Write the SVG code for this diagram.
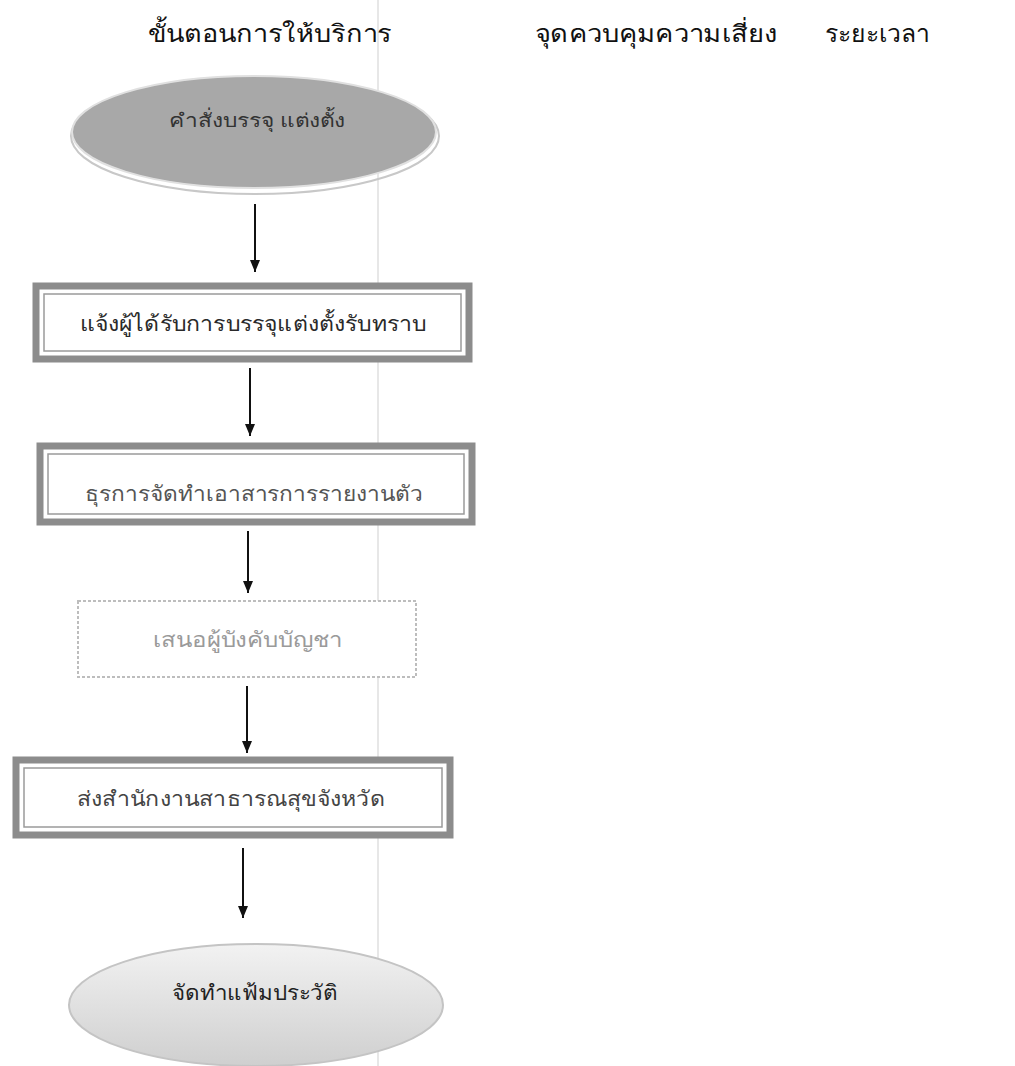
<svg xmlns="http://www.w3.org/2000/svg" width="1015" height="1066" viewBox="0 0 1015 1066">
<defs>
<style>
text{font-family:"Noto Sans","DejaVu Sans",sans-serif;text-anchor:middle}
.hdr{font-size:24px;fill:#111}
.lbl{font-size:21px;fill:#2a2a2a}
.box-outer{fill:#fff;stroke:#8c8c8c;stroke-width:7}
.box-inner{fill:none;stroke:#9a9a9a;stroke-width:1.5}
.conn{stroke:#111;stroke-width:2;fill:none}
</style>
<marker id="ah" viewBox="0 0 12 10" refX="12" refY="5" markerWidth="12" markerHeight="10" markerUnits="userSpaceOnUse" orient="auto">
<path d="M0,0 L12,5 L0,10 Z" fill="#111"/>
</marker>
<linearGradient id="g2" x1="0" y1="0" x2="0" y2="1">
<stop offset="0" stop-color="#f2f2f2"/>
<stop offset="1" stop-color="#cfcfcf"/>
</linearGradient>
</defs>
<rect width="1015" height="1066" fill="#fff"/>
<line x1="378" y1="0" x2="378" y2="1066" stroke="#cfcfcf" stroke-width="1"/>
<g id="headers">
<text class="hdr" x="270" y="42" textLength="244" lengthAdjust="spacingAndGlyphs">ขั้นตอนการให้บริการ</text>
<text class="hdr" x="656" y="42" textLength="243" lengthAdjust="spacingAndGlyphs">จุดควบคุมความเสี่ยง</text>
<text class="hdr" x="877" y="42" textLength="105" lengthAdjust="spacingAndGlyphs">ระยะเวลา</text>
</g>
<g id="n1">
<ellipse cx="255" cy="136" rx="184" ry="58" fill="none" stroke="#c8c8c8" stroke-width="2"/>
<ellipse cx="254" cy="132" rx="182" ry="56" fill="#a8a8a8" stroke="#e0e0e0" stroke-width="2"/>
<text class="lbl" x="257" y="127" style="font-size:19px;fill:#333" textLength="176" lengthAdjust="spacingAndGlyphs">คำสั่งบรรจุ แต่งตั้ง</text>
</g>
<g id="n2">
<rect class="box-outer" x="36" y="286" width="433" height="73"/>
<rect class="box-inner" x="44" y="294" width="417" height="57"/>
<text class="lbl" x="253" y="331" textLength="347" lengthAdjust="spacingAndGlyphs">แจ้งผู้ได้รับการบรรจุแต่งตั้งรับทราบ</text>
</g>
<g id="n3">
<rect class="box-outer" x="40" y="446" width="432" height="76"/>
<rect class="box-inner" x="48" y="454" width="416" height="60"/>
<text class="lbl" x="254" y="501" style="fill:#555" textLength="338" lengthAdjust="spacingAndGlyphs">ธุรการจัดทำเอาสารการรายงานตัว</text>
</g>
<g id="n4">
<rect x="78" y="601" width="338" height="76" fill="#fff" stroke="#bdbdbd" stroke-width="2" stroke-dasharray="3 2"/>
<text class="lbl" x="248" y="647" style="fill:#9a9a9a" textLength="190" lengthAdjust="spacingAndGlyphs">เสนอผู้บังคับบัญชา</text>
</g>
<g id="n5">
<rect class="box-outer" x="16" y="760" width="434" height="75"/>
<rect class="box-inner" x="24" y="768" width="418" height="59"/>
<text class="lbl" x="231" y="806" style="fill:#444" textLength="308" lengthAdjust="spacingAndGlyphs">ส่งสำนักงานสาธารณสุขจังหวัด</text>
</g>
<g id="n6">
<ellipse cx="256" cy="1005" rx="187" ry="61" fill="url(#g2)" stroke="#c4c4c4" stroke-width="2"/>
<text class="lbl" x="255" y="1000" style="fill:#222" textLength="166" lengthAdjust="spacingAndGlyphs">จัดทำแฟ้มประวัติ</text>
</g>
<g id="connectors">
<line class="conn" x1="255" y1="204" x2="255" y2="272" marker-end="url(#ah)"/>
<line class="conn" x1="250" y1="368" x2="250" y2="436" marker-end="url(#ah)"/>
<line class="conn" x1="248" y1="531" x2="248" y2="593" marker-end="url(#ah)"/>
<line class="conn" x1="247" y1="686" x2="247" y2="753" marker-end="url(#ah)"/>
<line class="conn" x1="243" y1="848" x2="243" y2="918" marker-end="url(#ah)"/>
</g>
</svg>
